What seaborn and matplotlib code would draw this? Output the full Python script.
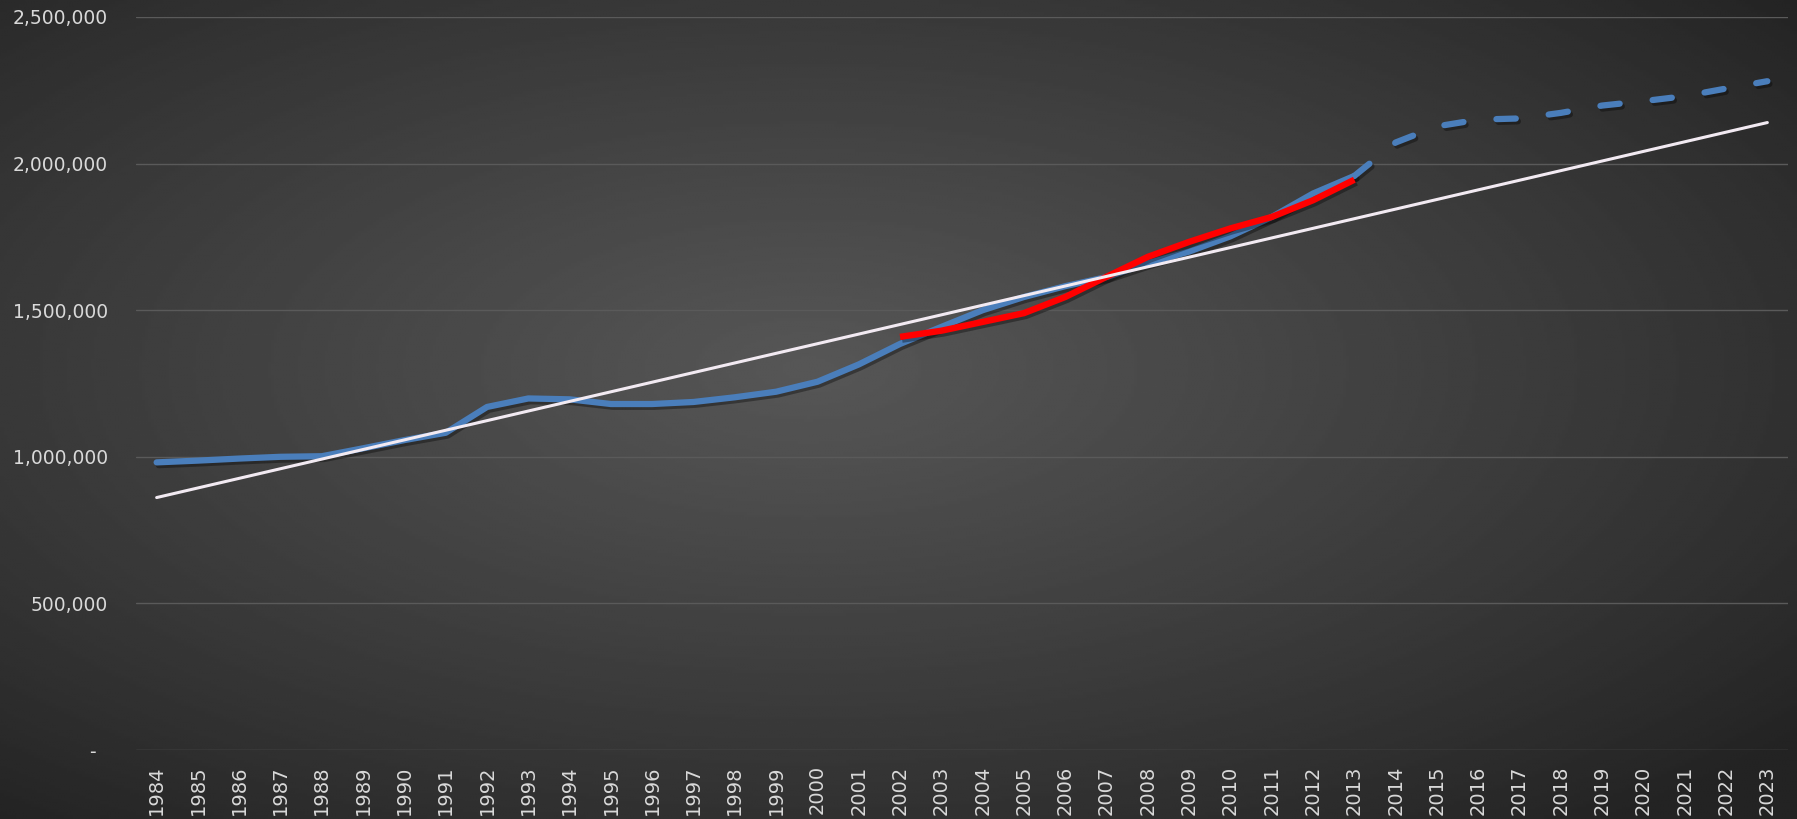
import numpy as np
import matplotlib
matplotlib.use("Agg")
import matplotlib.pyplot as plt
import matplotlib.patheffects as pe
from matplotlib.ticker import FuncFormatter
import seaborn as sns
import pandas as pd

# data
all_years = list(range(1984, 2024))

actual_years = list(range(1984, 2014))
actual_values = [981000, 987000, 994000, 1000000, 1002000, 1029000, 1057000, 1082000,
                 1170000, 1199000, 1196000, 1180000, 1180000, 1187000, 1203000, 1222000,
                 1256000, 1315000, 1385000, 1443000, 1500000, 1545000, 1582000, 1613000,
                 1660000, 1700000, 1752000, 1818000, 1898000, 1958000]

forecast_years = list(range(2013, 2024))
forecast_values = [1958000, 2072000, 2127000, 2150000, 2154000, 2173000, 2198000,
                   2213000, 2230000, 2256000, 2281000]

recent_years = list(range(2002, 2014))
recent_values = [1409000, 1430000, 1460000, 1490000, 1545000, 1614000, 1682000,
                 1733000, 1779000, 1818000, 1875000, 1945000]

trend_years = [1984, 2023]
trend_values = [861000, 2140000]

y_ticks = [0, 500000, 1000000, 1500000, 2000000, 2500000]

sns.set_style("dark")
plt.rcParams["font.family"] = ["DejaVu Sans"]

fig = plt.figure(figsize=(17.97, 8.19), dpi=100)

# radial gradient background
gx, gy = np.meshgrid(np.linspace(-1, 1, 600), np.linspace(-1, 1, 300))
r = np.clip(np.sqrt((gx + 0.1) ** 2 + (gy + 0.1) ** 2) / np.sqrt(2), 0, 1)
shade = 0.14 + (0.34 - 0.14) * (1 - r) ** 0.9
bg = fig.add_axes([0, 0, 1, 1], zorder=0)
bg.imshow(shade, cmap="gray", vmin=0, vmax=1, aspect="auto", interpolation="bilinear")
bg.axis("off")

ax = fig.add_axes([136 / 1797, 69 / 819, 1652 / 1797, 733 / 819], zorder=1)
ax.patch.set_alpha(0)

shadow = [pe.SimpleLineShadow(offset=(1.5, -2), shadow_color="black", alpha=0.35), pe.Normal()]

df_actual = pd.DataFrame({"year": actual_years, "value": actual_values})
df_forecast = pd.DataFrame({"year": forecast_years, "value": forecast_values})
df_recent = pd.DataFrame({"year": recent_years, "value": recent_values})
df_trend = pd.DataFrame({"year": trend_years, "value": trend_values})

blue = "#4a7ebb"
sns.lineplot(data=df_actual, x="year", y="value", ax=ax, color=blue, linewidth=4.5,
             solid_capstyle="round", solid_joinstyle="round", path_effects=shadow, zorder=3)
sns.lineplot(data=df_forecast, x="year", y="value", ax=ax, color=blue, linewidth=4.5,
             linestyle=(0, (3.1, 5.3)), dash_capstyle="round", path_effects=shadow, zorder=3)
sns.lineplot(data=df_recent, x="year", y="value", ax=ax, color="#ff0000", linewidth=4.6,
             solid_capstyle="butt", solid_joinstyle="round", path_effects=shadow, zorder=4)
sns.lineplot(data=df_trend, x="year", y="value", ax=ax, color="#f2eaf2", linewidth=2.2,
             solid_capstyle="round", zorder=5)

ax.set_xlim(all_years[0] - 0.5, all_years[-1] + 0.5)
ax.set_ylim(0, 2500000)
ax.set_xticks(all_years)
ax.set_xticklabels([str(y) for y in all_years], rotation=90, fontsize=14, color="#d9d9d9")
ax.set_yticks(y_ticks)
ax.yaxis.set_major_formatter(FuncFormatter(lambda v, _: "-  " if v == 0 else f"{v:,.0f}"))
ax.tick_params(axis="x", length=0, pad=11)
ax.tick_params(axis="y", length=0, pad=20, labelsize=13.5, labelcolor="#d9d9d9")
ax.set_xlabel("")
ax.set_ylabel("")
ax.grid(axis="y", color="#5a5a5a", linewidth=1.0)
ax.grid(axis="x", visible=False)
for s in ax.spines.values():
    s.set_visible(False)

fig.savefig("out.png", dpi=100)
